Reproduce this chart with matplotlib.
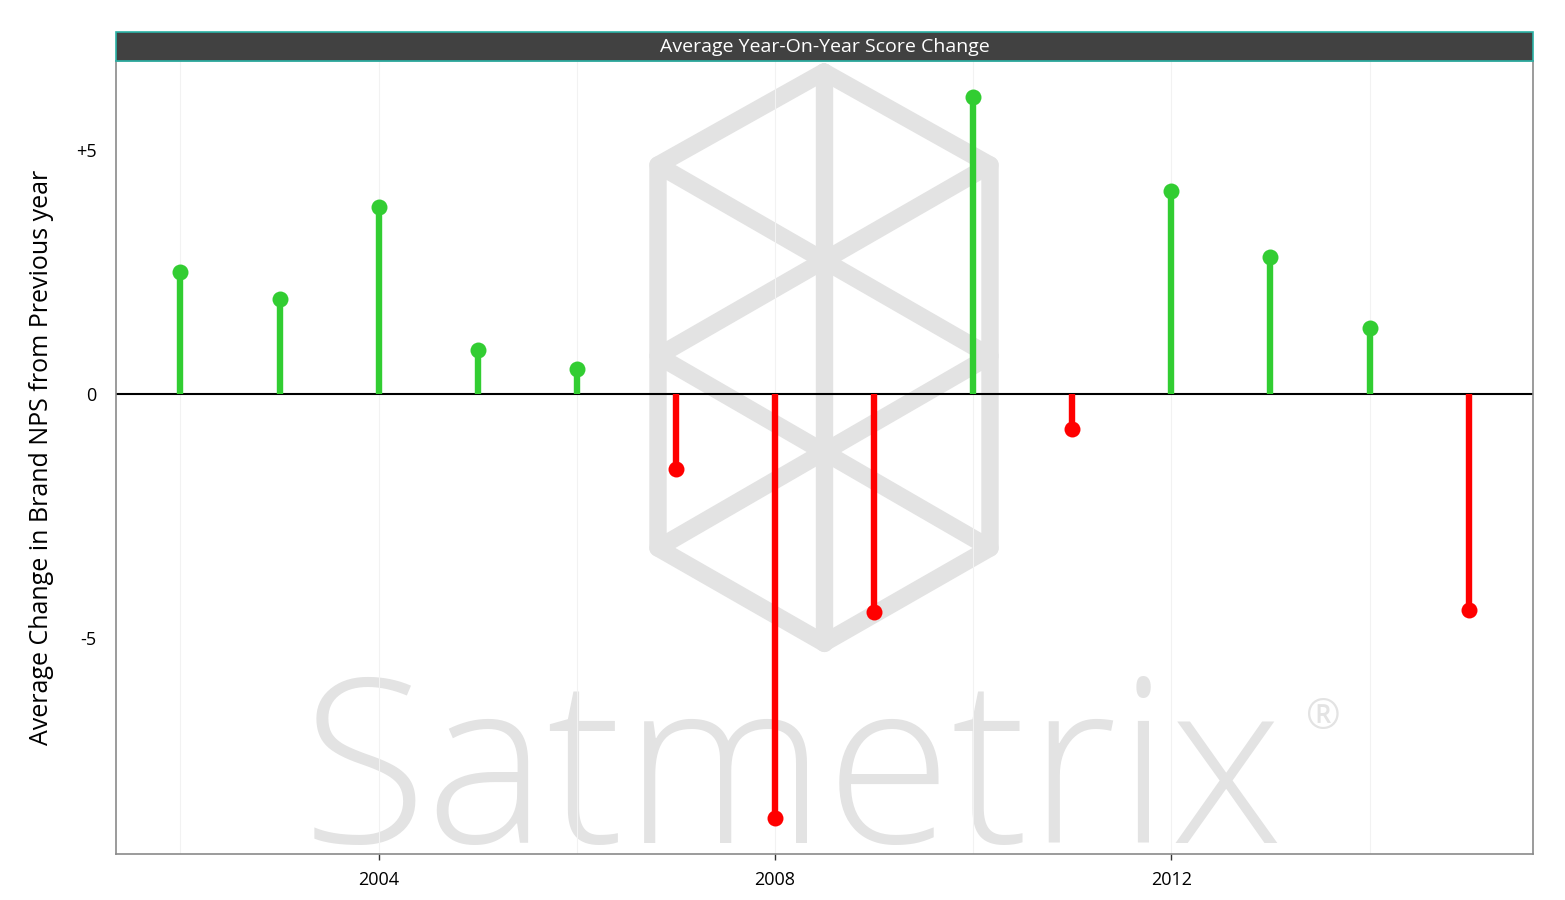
import matplotlib
matplotlib.use("Agg")
import matplotlib.pyplot as plt
from matplotlib.patches import Rectangle

# ── Data ────────────────────────────────────────────────────────────────
years = [2002, 2003, 2004, 2005, 2006, 2007, 2008,
         2009, 2010, 2011, 2012, 2013, 2014, 2015]
changes = [2.49, 1.94, 3.83, 0.90, 0.51, -1.55, -8.69,
           -4.48, 6.08, -0.72, 4.16, 2.80, 1.34, -4.44]
x_ticks = [2004, 2008, 2012]
y_ticks = [-5, 0, 5]
y_tick_labels = ["-5", "0", "+5"]

# ── Colours ─────────────────────────────────────────────────────────────
GREEN = "#32CD32"
RED = "#FF0000"
WATERMARK = "#E3E3E3"
STRIP_BG = "#414141"
STRIP_EDGE = "#2BB3A6"
BORDER = "#8A8A8A"
FONT = ["Open Sans", "DejaVu Sans"]

W, H = 1565, 900
fig = plt.figure(figsize=(W / 100, H / 100), dpi=100)
fig.patch.set_facecolor("white")

# ── Watermark layer (pixel coords, behind the plot) ─────────────────────
bg = fig.add_axes([0, 0, 1, 1], zorder=0)
bg.set_xlim(0, W)
bg.set_ylim(H, 0)
bg.axis("off")

cx, xl, xr = 824, 658, 990
y_top, y_ul, y_mid, y_ll, y_bot = 72, 165, 356, 548, 643
segments = [
    [(cx, y_top), (xr, y_ul), (xr, y_ll), (cx, y_bot), (xl, y_ll), (xl, y_ul), (cx, y_top)],
    [(cx, y_top), (cx, y_bot)],
    [(xl, y_ul), (xr, y_mid), (xl, y_ll)],
    [(xr, y_ul), (xl, y_mid), (xr, y_ll)],
]
for seg in segments:
    xs, ys = zip(*seg)
    bg.plot(xs, ys, color=WATERMARK, lw=12.5, solid_capstyle="round",
            solid_joinstyle="round")

bg.text(302, 843, "Satmetrix", fontsize=165, color=WATERMARK, family=FONT,
        fontweight="light", ha="left", va="baseline")
bg.text(1323, 718, "\u00ae", fontsize=30, color=WATERMARK, family=FONT,
        ha="center", va="center")

# ── Main plot ───────────────────────────────────────────────────────────
left, right, top, bottom = 116, 1533, 61, 854
ax = fig.add_axes([left / W, 1 - bottom / H, (right - left) / W, (bottom - top) / H],
                  zorder=1)
ax.patch.set_alpha(0)

ax.set_xlim(2001.35, 2015.65)
ax.set_ylim(-9.43, 6.82)

for gx in range(2002, 2016, 2):
    ax.axvline(gx, color="#F2F2F2", lw=0.8, zorder=0)

ax.axhline(0, color="black", lw=1.5, zorder=2)

for yr, val in zip(years, changes):
    col = GREEN if val >= 0 else RED
    ax.plot([yr, yr], [0, val], color=col, lw=4.6, solid_capstyle="butt", zorder=3)
    ax.plot(yr, val, "o", color=col, ms=11.5, mec="none", zorder=4)

ax.set_xticks(x_ticks)
ax.set_xticklabels([str(t) for t in x_ticks], family=FONT, fontsize=13)
ax.set_yticks(y_ticks)
ax.set_yticklabels(y_tick_labels, family=FONT, fontsize=13)
ax.tick_params(axis="x", length=4, width=1, color="#333333", pad=8)
ax.tick_params(axis="y", length=0, pad=14)

for sp in ax.spines.values():
    sp.set_color(BORDER)
    sp.set_linewidth(1.2)

ax.set_ylabel("Average Change in Brand NPS from Previous year", family=FONT,
              fontsize=18, labelpad=16)

# ── Strip title ─────────────────────────────────────────────────────────
strip_top = 32
sx = fig.add_axes([left / W, 1 - top / H, (right - left) / W, (top - strip_top) / H],
                  zorder=2)
sx.set_xlim(0, 1)
sx.set_ylim(0, 1)
sx.axis("off")
sx.add_patch(Rectangle((0, 0), 1, 1, facecolor=STRIP_BG, edgecolor=STRIP_EDGE,
                       lw=1.2, transform=sx.transAxes, clip_on=False))
sx.text(0.5, 0.47, "Average Year-On-Year Score Change", color="white",
        family=FONT, fontsize=14, ha="center", va="center")

fig.savefig("out.png", dpi=100, facecolor="white")
